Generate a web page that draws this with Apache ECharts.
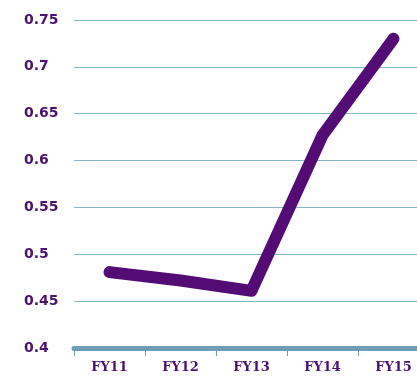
<!DOCTYPE html>
<html>
<head>
<meta charset="utf-8">
<style>
  html, body { margin: 0; padding: 0; background: #ffffff; overflow: hidden; }
  #chart { width: 417px; height: 379px; }
</style>
<script src="https://cdn.jsdelivr.net/npm/echarts@6/dist/echarts.min.js"></script>
</head>
<body>
<div id="chart"></div>
<script>
// Fiscal years and the ratio recorded for each
const years = ['FY11', 'FY12', 'FY13', 'FY14', 'FY15'];
const ratio = [0.481, 0.472, 0.461, 0.627, 0.730];

// Value axis range
const yMin = 0.4;
const yMax = 0.75;
const yStep = 0.05;

const purple = '#520c74';
const labelPurple = '#4a1270';
const gridBlue = '#86b5c8';
const axisBlue = '#6c9fb6';

const chart = echarts.init(document.getElementById('chart'));
chart.setOption({
  animation: false,
  // plot runs past the right edge of the canvas
  grid: { left: 74, width: 355, top: 20, bottom: 31, outerBoundsMode: 'none', containLabel: false },
  xAxis: {
    type: 'category',
    data: years,
    boundaryGap: true,
    axisLine: { show: true, lineStyle: { color: axisBlue, width: 5, cap: 'round' } },
    axisTick: { show: true, length: 8, lineStyle: { color: axisBlue, width: 1 } },
    axisLabel: {
      color: labelPurple,
      fontFamily: 'DejaVu Serif',
      fontWeight: 'bold',
      fontSize: 13,
      margin: 13
    },
    splitLine: { show: false }
  },
  yAxis: {
    type: 'value',
    min: yMin,
    max: yMax,
    interval: yStep,
    axisLine: { show: false },
    axisTick: { show: false },
    axisLabel: {
      color: labelPurple,
      fontFamily: 'DejaVu Sans',
      fontWeight: 'bold',
      fontSize: 14,
      align: 'left',
      margin: 50,
      formatter: v => String(parseFloat(v.toFixed(2)))
    },
    splitLine: { show: true, lineStyle: { color: gridBlue, width: 1 } }
  },
  series: [{
    type: 'line',
    data: ratio,
    symbol: 'none',
    lineStyle: { color: purple, width: 12, cap: 'round', join: 'round' }
  }]
});
</script>
</body>
</html>
